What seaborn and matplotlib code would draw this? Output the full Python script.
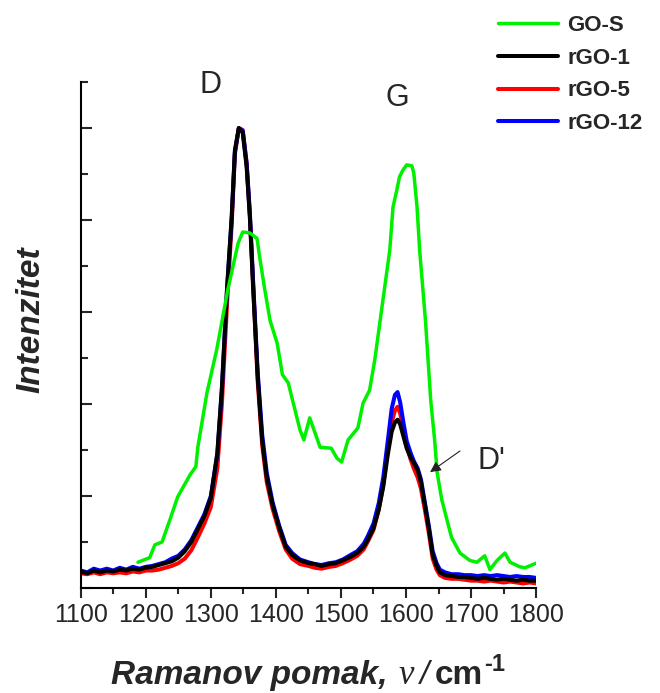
import pandas as pd
import numpy as np
import matplotlib
matplotlib.use("Agg")
import matplotlib.pyplot as plt
import seaborn as sns

# Raman spectra (normalised, D peak of rGO = 5)
rgo_x = [1100, 1110, 1120, 1130, 1140, 1150, 1160, 1170, 1180, 1190, 1200,
         1210, 1220, 1230, 1240, 1250, 1260, 1270, 1280, 1290, 1300,
         1310, 1317, 1325, 1332, 1337, 1343, 1349, 1355, 1360, 1365, 1372, 1379, 1386, 1395,
         1405, 1415, 1425, 1437, 1450, 1460, 1470, 1482, 1492, 1503, 1515, 1525, 1535, 1541,
         1550, 1558, 1565, 1572, 1578, 1583, 1587, 1591, 1596, 1601, 1607, 1612, 1618, 1623,
         1629, 1635, 1641, 1647, 1652,
         1660, 1670, 1680, 1690, 1700, 1710, 1720, 1730, 1740, 1750, 1760, 1770, 1780, 1790, 1800]

rgo1_y = [0.18, 0.16, 0.19, 0.17, 0.19, 0.18, 0.20, 0.19, 0.21, 0.20, 0.22,
          0.23, 0.25, 0.27, 0.29, 0.33, 0.40, 0.50, 0.64, 0.78, 0.98,
          1.47, 2.18, 3.27, 4.03, 4.76, 5.00, 4.95, 4.58, 4.03, 3.27, 2.30, 1.60, 1.20, 0.90,
          0.66, 0.45, 0.36, 0.30, 0.27, 0.26, 0.24, 0.26, 0.27, 0.30, 0.34, 0.38, 0.45, 0.52,
          0.65, 0.85, 1.10, 1.45, 1.70, 1.80, 1.83, 1.78, 1.65, 1.52, 1.42, 1.36, 1.28, 1.15,
          0.90, 0.65, 0.36, 0.24, 0.17,
          0.14, 0.13, 0.12, 0.12, 0.11, 0.10, 0.11, 0.10, 0.09, 0.10, 0.09, 0.08, 0.09, 0.08, 0.08]

rgo5_y = [0.16, 0.15, 0.17, 0.15, 0.17, 0.16, 0.17, 0.16, 0.18, 0.17, 0.19,
          0.19, 0.20, 0.22, 0.24, 0.27, 0.32, 0.41, 0.55, 0.70, 0.88,
          1.30, 2.00, 3.10, 3.95, 4.72, 5.00, 4.98, 4.62, 4.05, 3.30, 2.25, 1.55, 1.15, 0.86,
          0.62, 0.42, 0.32, 0.26, 0.24, 0.22, 0.21, 0.23, 0.24, 0.27, 0.31, 0.35, 0.42, 0.50,
          0.63, 0.85, 1.12, 1.50, 1.80, 1.93, 1.97, 1.90, 1.72, 1.55, 1.40, 1.30, 1.20, 1.08,
          0.85, 0.60, 0.32, 0.20, 0.14,
          0.11, 0.10, 0.10, 0.09, 0.08, 0.08, 0.07, 0.08, 0.07, 0.06, 0.07, 0.06, 0.05, 0.06, 0.05]

rgo12_y = [0.19, 0.17, 0.21, 0.19, 0.21, 0.19, 0.22, 0.20, 0.23, 0.21, 0.23,
           0.24, 0.26, 0.28, 0.32, 0.35, 0.42, 0.52, 0.66, 0.80, 1.00,
           1.45, 2.15, 3.25, 4.00, 4.74, 5.00, 4.97, 4.62, 4.08, 3.33, 2.35, 1.66, 1.25, 0.93,
           0.68, 0.47, 0.38, 0.31, 0.28, 0.26, 0.25, 0.27, 0.28, 0.31, 0.36, 0.40, 0.48, 0.56,
           0.70, 0.92, 1.20, 1.60, 1.95, 2.10, 2.13, 2.02, 1.80, 1.60, 1.47, 1.38, 1.30, 1.18,
           0.93, 0.68, 0.40, 0.27, 0.20,
           0.17, 0.15, 0.15, 0.14, 0.14, 0.13, 0.14, 0.13, 0.14, 0.13, 0.12, 0.13, 0.12, 0.12, 0.11]

gos_x = [1188, 1206, 1214, 1225, 1237, 1249, 1268, 1277, 1280, 1294, 1309, 1326, 1342, 1349,
         1360, 1371, 1375, 1383, 1391, 1402, 1410, 1419, 1437, 1443, 1452, 1468, 1485, 1494,
         1501, 1511, 1526, 1534, 1544, 1552, 1563, 1575, 1580, 1586, 1590, 1595, 1601, 1609,
         1612, 1617, 1621, 1630, 1638, 1644, 1648, 1655, 1663, 1670, 1683, 1698, 1709, 1721,
         1729, 1740, 1752, 1760, 1775, 1783, 1800]
gos_y = [0.28, 0.33, 0.47, 0.50, 0.74, 0.99, 1.23, 1.32, 1.53, 2.12, 2.59, 3.24, 3.75, 3.87,
         3.86, 3.80, 3.60, 3.24, 2.91, 2.66, 2.32, 2.23, 1.72, 1.61, 1.85, 1.53, 1.52, 1.41,
         1.37, 1.61, 1.74, 2.01, 2.15, 2.48, 3.05, 3.67, 4.14, 4.33, 4.47, 4.54, 4.60, 4.59,
         4.51, 4.14, 3.67, 2.90, 2.04, 1.61, 1.25, 0.96, 0.74, 0.55, 0.38, 0.30, 0.28, 0.35,
         0.20, 0.30, 0.38, 0.28, 0.23, 0.22, 0.27]

sample_names = ["GO-S", "rGO-1", "rGO-5", "rGO-12"]
sample_colors = ["#00f000", "#000000", "#ff0000", "#0000ff"]

# peak labels: (text, x, y)
peak_labels = [("D", 1299, 5.47), ("G", 1586, 5.33)]
dprime_text = (1732, 1.38)
dprime_arrow_from = (1683, 1.49)
dprime_arrow_to = (1637, 1.26)

sns.set_style("ticks")
plt.rcParams['font.family'] = ['Liberation Sans', 'DejaVu Sans']

fig = plt.figure(figsize=(6.6, 6.93), dpi=100)
ax = fig.add_axes([0.1223, 0.1515, 0.690, 0.730])

df_rgo = pd.DataFrame({"x": rgo_x, "rGO-1": rgo1_y, "rGO-5": rgo5_y, "rGO-12": rgo12_y})
df_gos = pd.DataFrame({"x": gos_x, "GO-S": gos_y})
colors = dict(zip(sample_names, sample_colors))

# draw order: red, blue, black underneath green
for name in ["rGO-5", "rGO-12", "rGO-1"]:
    sns.lineplot(data=df_rgo, x="x", y=name, color=colors[name], lw=2.9, ax=ax,
                 label=name, legend=False, sort=False)
sns.lineplot(data=df_gos, x="x", y="GO-S", color=colors["GO-S"], lw=2.5, ax=ax,
             label="GO-S", legend=False, sort=False)

ax.set_xlim(1100, 1800)
ax.set_ylim(0, 5.5)
sns.despine(ax=ax)
for s in ["left", "bottom"]:
    ax.spines[s].set_linewidth(1.5)
    ax.spines[s].set_color("black")

ax.set_xticks(np.arange(1100, 1801, 100))
ax.set_xticks(np.arange(1100, 1801, 50), minor=True)
ax.set_yticks(np.arange(0, 5.01, 1))
ax.set_yticks(np.arange(0, 5.51, 0.5), minor=True)
ax.set_yticklabels([])
ax.tick_params(axis="x", which="major", direction="out", length=7, width=1.5, labelsize=18, pad=4)
ax.tick_params(axis="x", which="minor", direction="out", length=4, width=1.5)
ax.tick_params(axis="y", which="major", direction="in", length=8, width=1.5)
ax.tick_params(axis="y", which="minor", direction="in", length=5, width=1.5)

ax.set_xlabel("")
ax.set_ylabel("Intenzitet", fontsize=24, fontweight="bold", fontstyle="italic")
ax.yaxis.set_label_coords(-0.076, 0.53)

for txt, px, py in peak_labels:
    ax.text(px, py, txt, fontsize=22, ha="center", va="center", clip_on=False)
ax.text(*dprime_text, "D'", fontsize=22, ha="center", va="center")
ax.annotate("", xy=dprime_arrow_to, xytext=dprime_arrow_from,
            arrowprops=dict(arrowstyle="-|>", color="#222222", lw=0.8,
                            shrinkA=0, shrinkB=0, mutation_scale=16))

# x axis title built from pieces: bold italic text, italic nu, slash, upright cm, superscript -1
pieces = [("Ramanov pomak,", dict(family="Liberation Sans", weight="bold", style="italic", size=24), 11, 0),
          ("\u03bd", dict(family="Liberation Serif", style="italic", size=25), 6, 0),
          ("/", dict(family="Liberation Sans", style="italic", size=24), 6, 0),
          ("cm", dict(family="Liberation Sans", weight="bold", size=24), 1, 0),
          ("-1", dict(family="Liberation Sans", weight="bold", size=17), 0, 13)]
fig.canvas.draw()
renderer = fig.canvas.get_renderer()
W, H = fig.bbox.width, fig.bbox.height
objs = []
total = 0
for txt, props, gap, rise in pieces:
    t = fig.text(0, 0, txt, va="baseline", ha="left", **props)
    w = t.get_window_extent(renderer).width
    objs.append((t, w, gap, rise))
    total += w + gap
x_cur = 308 - total / 2
base_y = 9
for t, w, gap, rise in objs:
    t.set_position((x_cur / W, (base_y + rise) / H))
    x_cur += w + gap

handles, labels = ax.get_legend_handles_labels()
order = [labels.index(n) for n in sample_names]
fig.legend([handles[i] for i in order], [labels[i] for i in order],
           loc="upper left", bbox_to_anchor=(0.755, 0.978), frameon=False,
           prop={"weight": "bold", "size": 16}, handlelength=2.7,
           handletextpad=0.4, labelspacing=0.52, borderpad=0, borderaxespad=0)

plt.savefig("out.png", dpi=100)
